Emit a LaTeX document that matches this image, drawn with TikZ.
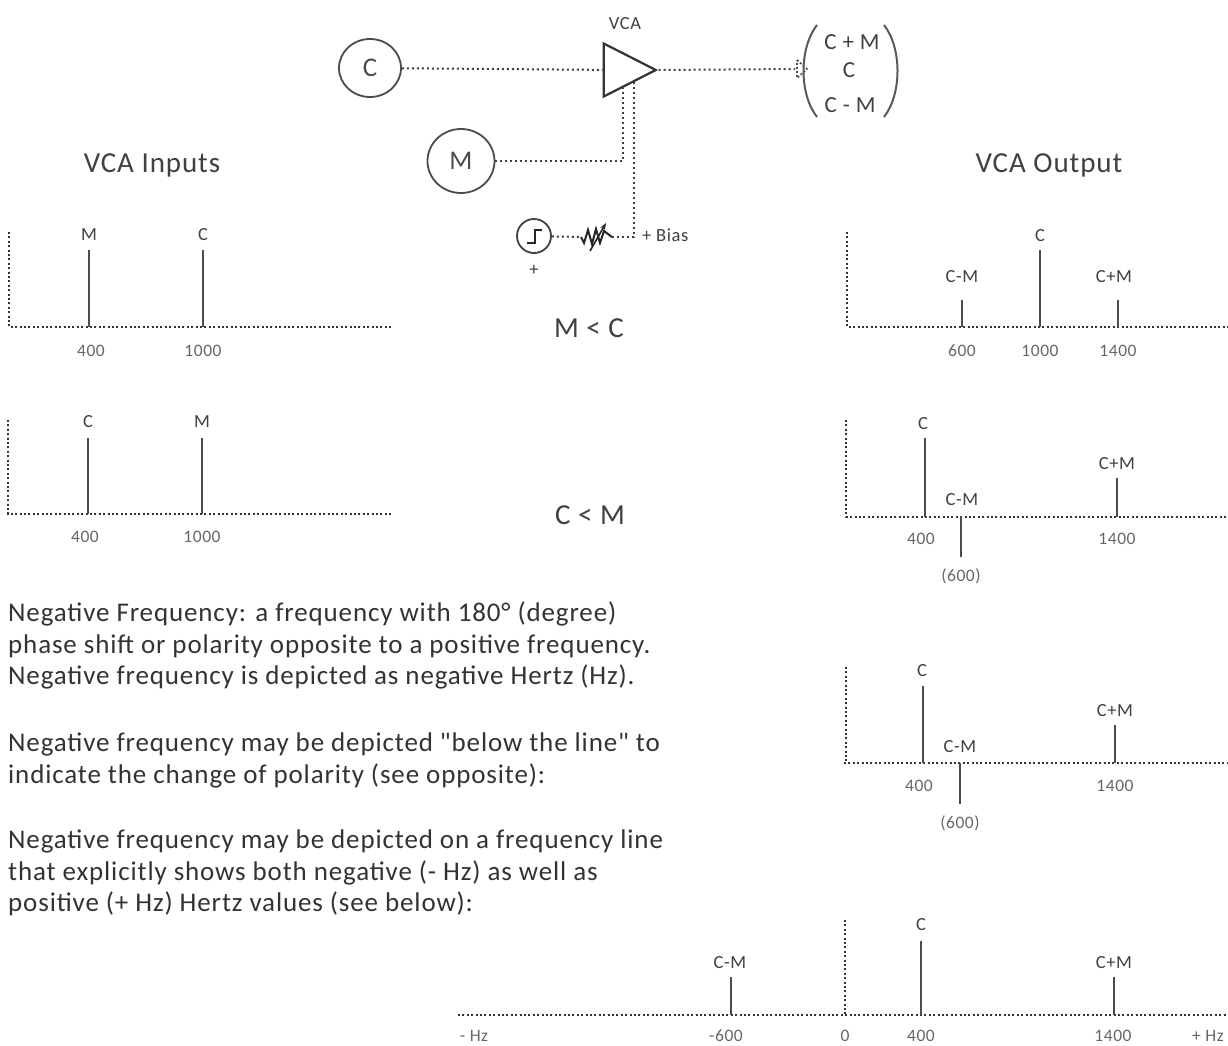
\documentclass[tikz,border=0pt]{standalone}
\usepackage{fontspec}
\setmainfont[LetterSpace=3.2,Ligatures=TeXOff]{Carlito}
\usetikzlibrary{arrows}
\usetikzlibrary{arrows.meta}
\usetikzlibrary{shapes.geometric}

\tikzset{
  dots/.style={line width=2pt,dash pattern=on 2pt off 3pt,black!75},
  axisline/.style={line width=2pt,dash pattern=on 2pt off 2.4pt,black!80},
  stem/.style={line width=2.6pt,black!70},
  unit/.style={draw=black!70,line width=1.8pt,ellipse,inner sep=0pt,font=\fontsize{27}{27}\selectfont,text=black!70},
  peak/.style={font=\fontsize{18.5}{18.5}\selectfont,text=black!75,inner sep=0pt},
  tick/.style={font=\fontsize{17.5}{17.5}\selectfont,text=black!60,inner sep=0pt},
  title/.style={font=\fontsize{29}{29}\selectfont,text=black!75,inner sep=0pt},
  para/.style={font=\fontsize{27}{31.5}\selectfont,text=black!80,inner sep=0pt,anchor=north west,align=left}
}

\begin{document}
\begin{tikzpicture}[x=1pt,y=-1pt]
\useasboundingbox (0,0) rectangle (1228,1045);

% draw circuit
\node [unit,minimum width=62pt,minimum height=58pt] (C) at (370,68) {C};
\node [unit,minimum width=67pt,minimum height=64pt] (M) at (461,161) {M};
\node [draw=black!80,line width=2.2pt,isosceles triangle,isosceles triangle stretches,minimum width=53pt,minimum height=52pt,inner sep=0pt] (vca) at (620,70) {};
\node [peak] (vcalabel) at (625,24) {VCA};
\coordinate (mjoin) at (623,88);
\coordinate (biasend) at (634,82);
\coordinate (biasjoin) at (634,237);
\coordinate (arrowend) at (795,69);
\coordinate (resleft) at (581,237);
\coordinate (resright) at (612,237);
\node [draw=black!75,line width=1.8pt,circle,minimum size=34pt,inner sep=0pt] (stepc) at (534,236) {};
\node [peak] (stepplus) at (534,270) {+};
\node [peak,anchor=west] (bias) at (642,235) {+ Bias};

\draw [dots] (C) -- (vca);
\draw [dots] (vca.apex) -- (arrowend);
\draw [dots] (M) -| (mjoin);
\draw [dots] (biasend) -- (biasjoin) -- (resright);
\draw [dots] (stepc) -- (resleft);

% draw arrow head
\draw [line width=1.6pt,dash pattern=on 2pt off 2pt,black!70] (797,60) -- (807,69) -- (797,78) -- cycle;

% draw step and resistor
\draw [line width=2pt,black!85] (527,243) -- (535,243) -- (535,230) -- (542,230);
\draw [line width=2pt,black!85] (resleft) -- (584,243) -- (588,230) -- (592,244) -- (596,229) -- (600,243) -- (604,231) -- (resright);
\draw [-{Stealth[length=7pt]},line width=1.6pt,black!85] (590,251) -- (606,223);

% draw output vector
\node [title,font=\fontsize{23}{23}\selectfont] (outa) at (852,42) {C + M};
\node [title,font=\fontsize{23}{23}\selectfont] (outb) at (849,70) {C};
\node [title,font=\fontsize{23}{23}\selectfont] (outc) at (850,105) {C - M};
\draw [line width=2pt,black!65] (817,25) .. controls (799,48) and (799,94) .. (817,117);
\draw [line width=2pt,black!65] (884,25) .. controls (902,48) and (902,94) .. (884,117);

% label sections
\node [title] (inputs) at (152,165) {VCA Inputs};
\node [title] (outputs) at (1049,165) {VCA Output};
\node [title] (mltc) at (589,328) {M < C};
\node [title] (cltm) at (590,515) {C < M};

% input M < C
\draw [axisline] (9,232) -- (9,327) -- (392,327);
\draw [stem] (89,250) -- (89,327);
\draw [stem] (203,250) -- (203,327);
\node [peak] (a1) at (89,235) {M};
\node [peak] (a2) at (203,235) {C};
\node [tick] (a3) at (91,351) {400};
\node [tick] (a4) at (203,351) {1000};

% input C < M
\draw [axisline] (8,420) -- (8,514) -- (392,514);
\draw [stem] (88,438) -- (88,514);
\draw [stem] (202,438) -- (202,514);
\node [peak] (b1) at (88,422) {C};
\node [peak] (b2) at (202,422) {M};
\node [tick] (b3) at (85,537) {400};
\node [tick] (b4) at (202,537) {1000};

% output M < C
\draw [axisline] (847,232) -- (847,327) -- (1228,327);
\draw [stem] (962,300) -- (962,327);
\draw [stem] (1040,250) -- (1040,327);
\draw [stem] (1118,300) -- (1118,327);
\node [peak] (c1) at (1040,236) {C};
\node [peak] (c2) at (962,277) {C-M};
\node [peak] (c3) at (1114,277) {C+M};
\node [tick] (c4) at (962,351) {600};
\node [tick] (c5) at (1040,351) {1000};
\node [tick] (c6) at (1118,351) {1400};

% output C < M
\draw [axisline] (846,420) -- (846,517) -- (1228,517);
\draw [stem] (925,438) -- (925,517);
\draw [stem] (961,517) -- (961,557);
\draw [stem] (1117,478) -- (1117,517);
\node [peak] (d1) at (923,424) {C};
\node [peak] (d2) at (962,500) {C-M};
\node [peak] (d3) at (1117,464) {C+M};
\node [tick] (d4) at (921,539) {400};
\node [tick] (d5) at (1117,539) {1400};
\node [tick] (d6) at (961,576) {(600)};

% output below the line
\draw [axisline] (846,667) -- (846,763);
\draw [axisline] (844,763) -- (1228,763);
\draw [stem] (923,686) -- (923,763);
\draw [stem] (960,763) -- (960,804);
\draw [stem] (1115,725) -- (1115,763);
\node [peak] (e1) at (922,671) {C};
\node [peak] (e2) at (960,747) {C-M};
\node [peak] (e3) at (1115,711) {C+M};
\node [tick] (e4) at (919,786) {400};
\node [tick] (e5) at (1115,786) {1400};
\node [tick] (e6) at (960,823) {(600)};

% frequency line with negative side
\draw [axisline] (845,920) -- (845,1015);
\draw [axisline] (458,1015) -- (1228,1015);
\draw [stem] (731,977) -- (731,1015);
\draw [stem] (921,941) -- (921,1015);
\draw [stem] (1114,977) -- (1114,1015);
\node [peak] (f1) at (730,963) {C-M};
\node [peak] (f2) at (921,925) {C};
\node [peak] (f3) at (1114,963) {C+M};
\node [tick] (f4) at (474,1036) {- Hz};
\node [tick] (f5) at (726,1036) {-600};
\node [tick] (f6) at (845,1036) {0};
\node [tick] (f7) at (921,1036) {400};
\node [tick] (f8) at (1113,1036) {1400};
\node [tick] (f9) at (1208,1036) {+ Hz};

% notes
\node [para] (note1) at (8,602) {Negative Frequency: a frequency with 180° (degree)\\phase shift or polarity opposite to a positive frequency.\\Negative frequency is depicted as negative Hertz (Hz).};
\node [para] (note2) at (8,733) {Negative frequency may be depicted "below the line" to\\indicate the change of polarity (see opposite):};
\node [para] (note3) at (8,830) {Negative frequency may be depicted on a frequency line\\that explicitly shows both negative (- Hz) as well as\\positive (+ Hz) Hertz values (see below):};

\end{tikzpicture}
\end{document}
